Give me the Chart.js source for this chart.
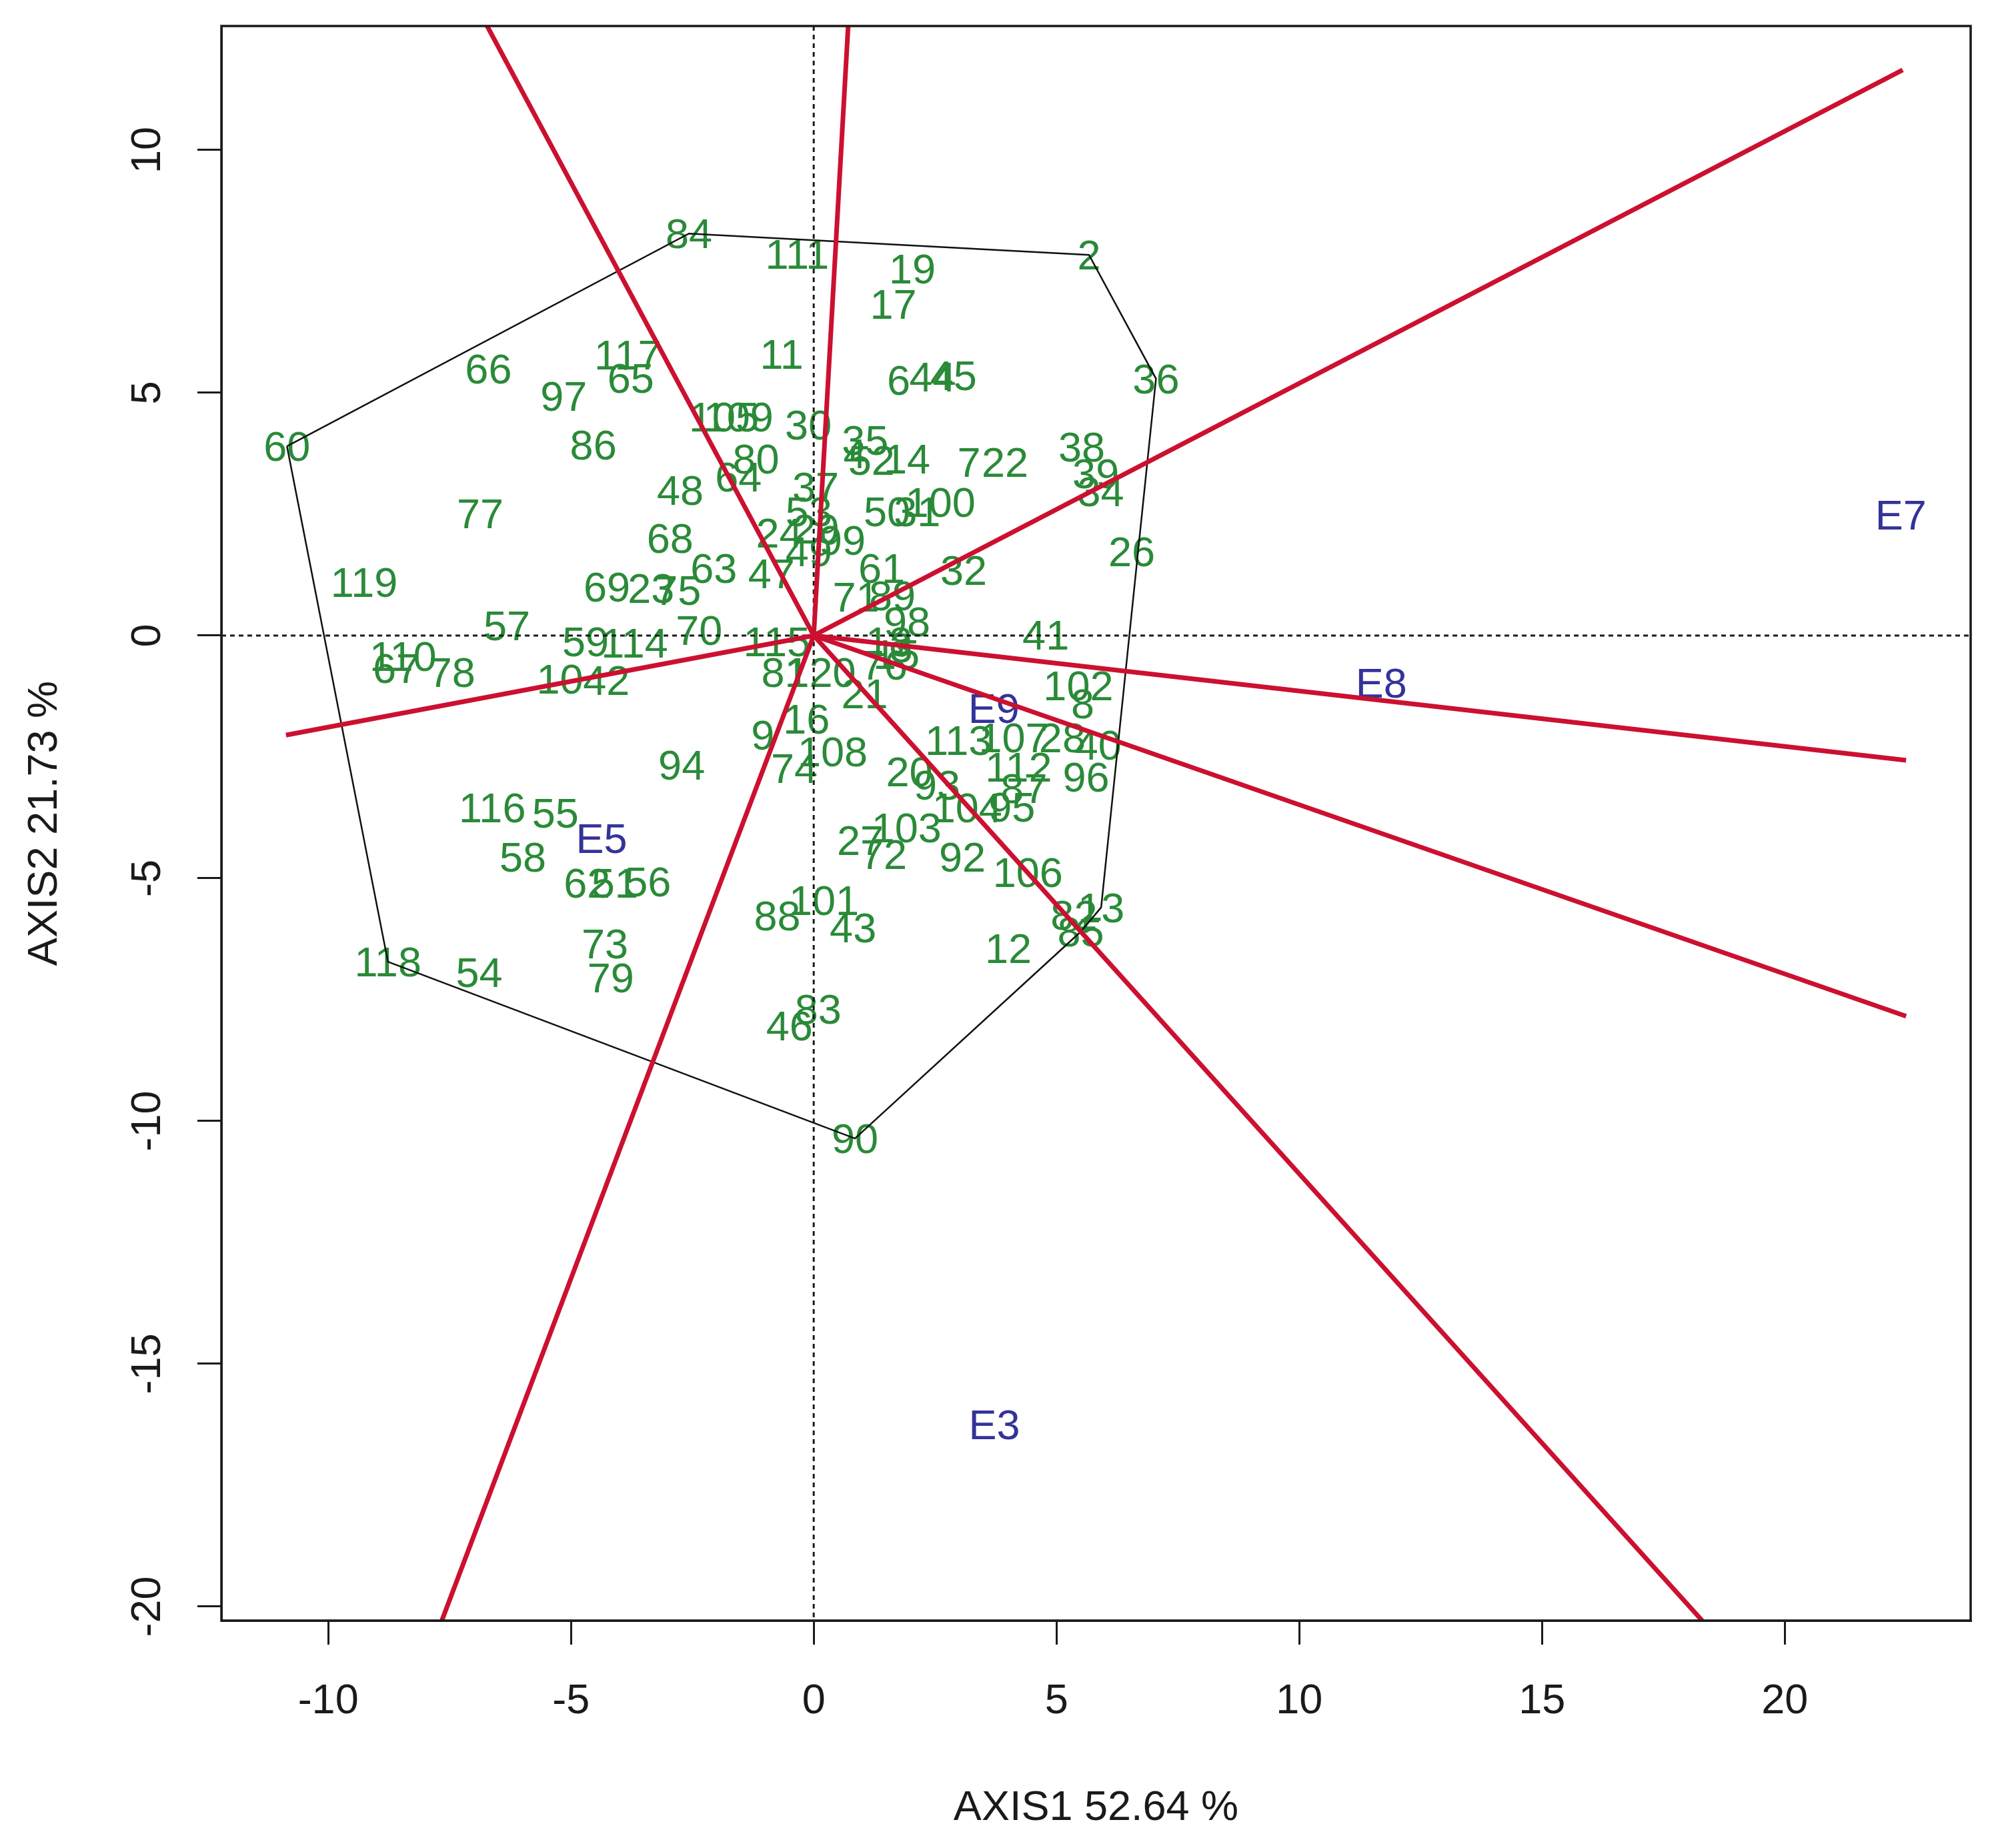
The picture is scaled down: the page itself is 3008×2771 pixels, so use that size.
<!DOCTYPE html>
<html>
<head>
<meta charset="utf-8">
<title>GGE biplot</title>
<script src="https://cdn.jsdelivr.net/npm/chart.js@4.4.1/dist/chart.umd.min.js"></script>
<style>
  html, body { margin: 0; padding: 0; background: #ffffff; }
  canvas { display: block; }
</style>
</head>
<body>
<canvas id="biplot" width="3008" height="2771" style="width:3008px;height:2771px"></canvas>
<script>
// genotype scores (AXIS1, AXIS2)
const genotypeIds = ['84','111','19','2','17','117','11','66','65','6','44','45','36','97','105','109','30','86',
  '35','4','52','14','80','7','22','38','39','34','77','48','64','37','53','24','29','49','99','50','31','100',
  '26','68','63','47','61','32','119','69','23','75','71','89','98','57','70','41','115','18','3','15','59',
  '114','110','67','78','10','42','81','120','76','21','102','8','113','107','28','40','112','96','20','93',
  '87','104','95','9','16','94','74','108','116','55','58','62','51','56','73','79','118','54','27','72',
  '103','92','106','101','88','43','12','13','82','85','83','46','90','60'];
const genotypeX = [-2.57,-0.34,2.03,5.67,1.64,-3.83,-0.66,-6.70,-3.77,1.75,2.45,2.88,7.05,-5.15,-1.85,-1.55,-0.11,-4.54,
  1.06,0.85,1.19,1.92,-1.19,3.20,3.94,5.52,5.81,5.91,-6.87,-2.75,-1.55,0.04,-0.10,-0.71,0.05,-0.10,0.59,1.51,2.13,2.61,
  6.55,-2.96,-2.06,-0.87,1.40,3.09,-9.26,-4.26,-3.35,-2.80,0.87,1.62,1.92,-6.32,-2.36,4.78,-0.76,1.55,1.80,1.70,-4.70,
  -3.69,-8.46,-8.60,-7.45,-5.23,-4.27,-0.60,0.15,1.45,1.05,5.45,5.54,2.98,4.12,5.12,5.86,4.22,5.61,1.97,2.54,
  4.33,3.16,4.08,-1.05,-0.15,-2.72,-0.40,0.39,-6.62,-5.32,-5.99,-4.67,-4.10,-3.42,-4.30,-4.18,-8.77,-6.89,0.96,1.44,
  1.91,3.06,4.41,0.21,-0.75,0.81,4.01,5.92,5.36,5.50,0.09,-0.50,0.85,-10.85];
const genotypeY = [8.28,7.86,7.55,7.84,6.83,5.78,5.80,5.49,5.30,5.26,5.33,5.36,5.29,4.93,4.50,4.50,4.34,3.93,
  4.02,3.75,3.61,3.64,3.64,3.57,3.57,3.89,3.34,2.97,2.51,3.00,3.27,3.06,2.55,2.12,2.20,1.73,1.96,2.56,2.56,2.75,
  1.73,2.00,1.39,1.28,1.39,1.35,1.10,1.00,0.98,0.93,0.80,0.82,0.29,0.20,0.11,0.01,-0.12,-0.12,-0.25,-0.38,-0.13,
  -0.15,-0.42,-0.68,-0.75,-0.90,-0.92,-0.76,-0.75,-0.60,-1.20,-1.03,-1.40,-2.16,-2.10,-2.10,-2.25,-2.70,-2.91,-2.80,-3.08,
  -3.14,-3.55,-3.53,-2.05,-1.72,-2.66,-2.74,-2.39,-3.55,-3.65,-4.56,-5.10,-5.10,-5.07,-6.35,-7.05,-6.72,-6.94,-4.22,-4.50,
  -3.96,-4.56,-4.88,-5.45,-5.77,-6.02,-6.45,-5.60,-5.75,-6.10,-7.69,-8.03,-10.36,3.90];

// environment scores
const envIds = ['E7','E8','E9','E5','E3'];
const envX = [22.39, 11.69, 3.71, -4.37, 3.72];
const envY = [2.49, -0.98, -1.50, -4.17, -16.25];

// convex hull vertices (genotype ids, in order)
const hullIds = ['60','84','2','36','13','85','90','118'];

// ends of the red sector lines that start at the origin
const rayEndX = [-6.73, 0.71, 22.43, 22.50, 22.50, 18.30, -7.66, -10.87];
const rayEndY = [12.56, 12.56, 11.65, -2.57, -7.84, -20.29, -20.29, -2.05];

// axes
const xTicks = [-10, -5, 0, 5, 10, 15, 20];
const yTicks = [-20, -15, -10, -5, 0, 5, 10];
const xRange = [-12.2, 23.83];
const yRange = [-20.29, 12.555];

const FONT = '"Liberation Sans", Arial, sans-serif';
const green = '#2a8a38';
const blue = '#33339a';
const red = '#cc1030';
const ink = '#1a1a1a';

const genoPoints = genotypeIds.map((id, i) => ({ x: genotypeX[i], y: genotypeY[i] }));
const envPoints = envIds.map((id, i) => ({ x: envX[i], y: envY[i] }));
const hullPoints = hullIds.map(id => genoPoints[genotypeIds.indexOf(id)]);
hullPoints.push(hullPoints[0]);

const rayDatasets = rayEndX.map((ex, i) => ({
    type: 'scatter',
    data: [{ x: 0, y: 0 }, { x: ex, y: rayEndY[i] }],
    showLine: true,
    borderColor: red,
    borderWidth: 7,
    pointRadius: 0,
    order: 1
}));

function drawNames(chart, dsIndex, names, color) {
    const ctx = chart.ctx;
    const meta = chart.getDatasetMeta(dsIndex);
    ctx.fillStyle = color;
    meta.data.forEach((el, i) => {
        // glyph centre on the point
        ctx.fillText(names[i], el.x, el.y + 22);
    });
}

const biplotText = {
    id: 'biplotText',
    beforeDatasetsDraw(chart) {
        const ctx = chart.ctx, a = chart.chartArea;
        const xs = chart.scales.x, ys = chart.scales.y;
        ctx.save();
        ctx.beginPath();
        ctx.rect(a.left, a.top, a.right - a.left, a.bottom - a.top);
        ctx.clip();
        ctx.font = '63px ' + FONT;
        ctx.textAlign = 'center';
        ctx.textBaseline = 'alphabetic';
        drawNames(chart, 0, genotypeIds, green);
        drawNames(chart, 1, envIds, blue);

        // dotted zero lines
        const x0 = xs.getPixelForValue(0), y0 = ys.getPixelForValue(0);
        ctx.strokeStyle = ink;
        ctx.lineWidth = 3;
        ctx.setLineDash([7, 6]);
        ctx.beginPath();
        ctx.moveTo(x0, a.top); ctx.lineTo(x0, a.bottom);
        ctx.moveTo(a.left, y0); ctx.lineTo(a.right, y0);
        ctx.stroke();
        ctx.restore();
    },
    afterDraw(chart) {
        const ctx = chart.ctx, a = chart.chartArea;
        const ys = chart.scales.y;
        ctx.save();
        ctx.strokeStyle = ink;
        ctx.lineWidth = 3.5;
        ctx.strokeRect(a.left, a.top, a.right - a.left, a.bottom - a.top);
        // y tick labels, rotated like R's las=0
        ctx.fillStyle = ink;
        ctx.font = '63px ' + FONT;
        ctx.textAlign = 'center';
        ctx.textBaseline = 'alphabetic';
        yTicks.forEach(v => {
            ctx.save();
            ctx.translate(a.left - 114, ys.getPixelForValue(v));
            ctx.rotate(-Math.PI / 2);
            ctx.fillText(String(v), 0, 22);
            ctx.restore();
        });
        ctx.restore();
    }
};

new Chart(document.getElementById('biplot'), {
    type: 'scatter',
    data: {
        datasets: [
            { data: genoPoints, pointRadius: 0, order: 3 },
            { data: envPoints, pointRadius: 0, order: 3 },
            {
                data: hullPoints, showLine: true, borderColor: '#111111',
                borderWidth: 2.5, pointRadius: 0, order: 2
            },
            ...rayDatasets
        ]
    },
    options: {
        responsive: false,
        devicePixelRatio: 1,
        animation: false,
        events: [],
        layout: { padding: { left: 0, right: 53, top: 39, bottom: 0 } },
        plugins: { legend: { display: false }, tooltip: { enabled: false } },
        scales: {
            x: {
                type: 'linear',
                min: xRange[0],
                max: xRange[1],
                afterBuildTicks: s => { s.ticks = xTicks.map(v => ({ value: v })); },
                afterFit: s => { s.height = 341; },
                grid: { drawOnChartArea: false, drawTicks: true, tickLength: 36, color: ink, lineWidth: 3 },
                border: { display: true, color: ink, width: 3 },
                ticks: { color: ink, font: { family: FONT, size: 63 }, padding: 48, maxRotation: 0 },
                title: {
                    display: true, text: 'AXIS1 52.64 %', color: ink,
                    font: { family: FONT, size: 63 }, padding: { top: 0, bottom: 22 }
                }
            },
            y: {
                type: 'linear',
                min: yRange[0],
                max: yRange[1],
                afterBuildTicks: s => { s.ticks = yTicks.map(v => ({ value: v })); },
                afterFit: s => { s.width = 332; },
                grid: { drawOnChartArea: false, drawTicks: true, tickLength: 36, color: ink, lineWidth: 3 },
                border: { display: true, color: ink, width: 3 },
                ticks: { display: false },
                title: {
                    display: true, text: 'AXIS2 21.73 %', color: ink,
                    font: { family: FONT, size: 63 }, padding: { top: 30, bottom: 0 }
                }
            }
        }
    },
    plugins: [biplotText]
});
</script>
</body>
</html>
